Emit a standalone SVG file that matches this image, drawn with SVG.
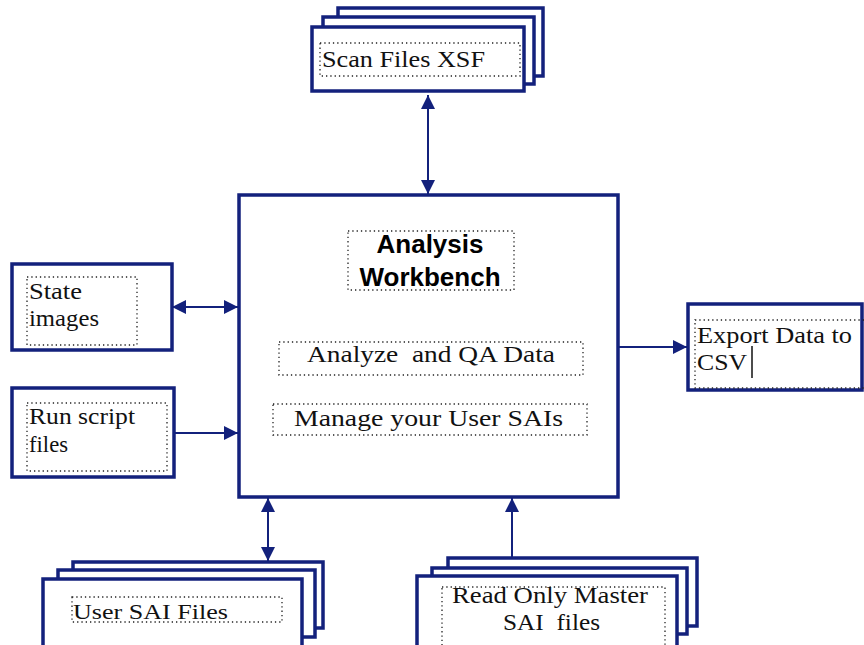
<svg xmlns="http://www.w3.org/2000/svg" width="864" height="645" viewBox="0 0 864 645">
<defs>
<marker id="ah" viewBox="0 0 14 14" refX="14" refY="7" markerWidth="14" markerHeight="14" markerUnits="userSpaceOnUse" orient="auto-start-reverse">
<path d="M0,0 L14,7 L0,14 Z" fill="#13217c"/>
</marker>
</defs>
<style>
.box{fill:#fff;stroke:#13217c;stroke-width:3.5}
.dot{fill:none;stroke:#222;stroke-width:1.3;stroke-dasharray:1.3 3}
.con{stroke:#13217c;stroke-width:2;fill:none}
.t{font-family:"Liberation Serif",serif;font-size:24px;fill:#111}
.b{font-family:"Liberation Sans",Arial,sans-serif;font-size:26px;font-weight:bold;fill:#000}
</style>
<rect width="864" height="645" fill="#fff"/>

<g id="scan">
<rect class="box" x="338" y="8" width="205" height="68"/>
<rect class="box" x="323" y="17" width="211" height="67"/>
<rect class="box" x="312" y="27" width="212" height="64"/>
<rect class="dot" x="320" y="43" width="200" height="33"/>
<text class="t" x="322" y="67" textLength="163" lengthAdjust="spacingAndGlyphs">Scan Files XSF</text>
</g>

<g id="main">
<rect class="box" x="239" y="195" width="379" height="302"/>
<rect class="dot" x="348" y="231" width="166" height="59"/>
<text class="b" x="430" y="253" text-anchor="middle">Analysis</text>
<text class="b" x="430" y="286" text-anchor="middle">Workbench</text>
<rect class="dot" x="279" y="342" width="304" height="33"/>
<text class="t" x="307" y="362" textLength="248" lengthAdjust="spacingAndGlyphs" xml:space="preserve">Analyze  and QA Data</text>
<rect class="dot" x="273" y="404" width="314" height="31"/>
<text class="t" x="294" y="426" textLength="269" lengthAdjust="spacingAndGlyphs">Manage your User SAIs</text>
</g>

<g id="state">
<rect class="box" x="12" y="264" width="160" height="86"/>
<rect class="dot" x="27" y="277" width="110" height="68"/>
<text class="t" x="29" y="299" textLength="53" lengthAdjust="spacingAndGlyphs">State</text>
<text class="t" x="29" y="326" textLength="70" lengthAdjust="spacingAndGlyphs">images</text>
</g>

<g id="run">
<rect class="box" x="12" y="388" width="162" height="89"/>
<rect class="dot" x="27" y="403" width="140" height="68"/>
<text class="t" x="29" y="424" textLength="106" lengthAdjust="spacingAndGlyphs">Run script</text>
<text class="t" x="29" y="452" textLength="39" lengthAdjust="spacingAndGlyphs">files</text>
</g>

<g id="export">
<rect class="box" x="688" y="304" width="174" height="86"/>
<rect class="dot" x="695" y="320" width="175" height="68"/>
<text class="t" x="697" y="343" textLength="155" lengthAdjust="spacingAndGlyphs">Export Data to</text>
<text class="t" x="697" y="370" textLength="50" lengthAdjust="spacingAndGlyphs">CSV</text>
<line x1="752" y1="346" x2="752" y2="378" stroke="#111" stroke-width="1.5"/>
</g>

<g id="usersai">
<rect class="box" x="73" y="562" width="250" height="66"/>
<rect class="box" x="58" y="570" width="257" height="67"/>
<rect class="box" x="43" y="579" width="259" height="70"/>
<rect class="dot" x="72" y="597" width="210" height="25"/>
<text class="t" x="73" y="619" style="font-size:21px" textLength="155" lengthAdjust="spacingAndGlyphs">User SAI Files</text>
</g>

<g id="master">
<rect class="box" x="448" y="558" width="249" height="68"/>
<rect class="box" x="432" y="568" width="255" height="66"/>
<rect class="box" x="417" y="576" width="260" height="73"/>
<rect class="dot" x="442" y="587" width="223" height="62"/>
<text class="t" x="452" y="603" textLength="196" lengthAdjust="spacingAndGlyphs">Read Only Master</text>
<text class="t" x="503" y="630" textLength="97" lengthAdjust="spacingAndGlyphs" xml:space="preserve">SAI  files</text>
</g>

<g id="connectors">
<line class="con" x1="428" y1="95" x2="428" y2="194" marker-start="url(#ah)" marker-end="url(#ah)"/>
<line class="con" x1="172" y1="307" x2="238" y2="307" marker-start="url(#ah)" marker-end="url(#ah)"/>
<line class="con" x1="174" y1="433" x2="238" y2="433" marker-end="url(#ah)"/>
<line class="con" x1="618" y1="347" x2="687" y2="347" marker-end="url(#ah)"/>
<line class="con" x1="268" y1="498" x2="268" y2="561" marker-start="url(#ah)" marker-end="url(#ah)"/>
<line class="con" x1="512" y1="558" x2="512" y2="498" marker-end="url(#ah)"/>
</g>
</svg>
